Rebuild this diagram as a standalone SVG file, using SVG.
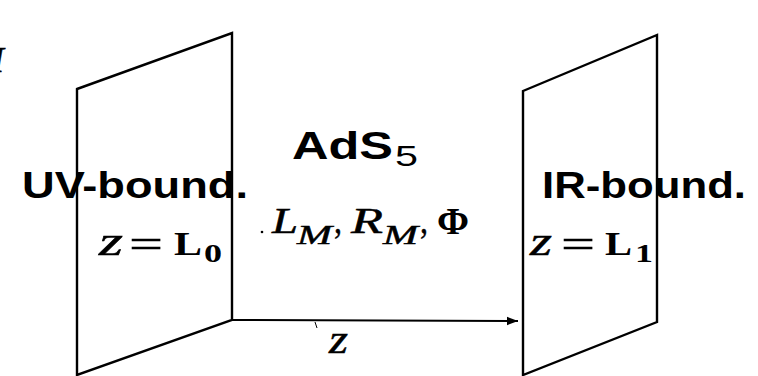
<svg xmlns="http://www.w3.org/2000/svg" width="758" height="376" viewBox="0 0 758 376">
  <style>
    .plane { fill: none; stroke: #000; stroke-width: 2.4; stroke-linejoin: miter; }
    .conn { stroke: #000; stroke-width: 2; fill: none; }
    .sansb { font-family: "Liberation Sans", Arial, sans-serif; font-weight: bold; fill: #000; }
    .sans { font-family: "Liberation Sans", Arial, sans-serif; fill: #000; }
    .mi { font-family: "Liberation Serif", "Times New Roman", serif; font-style: italic; fill: #000; stroke: #000; stroke-width: 0.5; }
    .mr { font-family: "Liberation Serif", "Times New Roman", serif; fill: #000; stroke: #000; stroke-width: 0.4; }
    .mb { font-family: "Liberation Serif", "Times New Roman", serif; font-weight: bold; fill: #000; }
  </style>
  <defs>
    <marker id="arrow" markerWidth="12" markerHeight="10" refX="11" refY="5" orient="auto" markerUnits="userSpaceOnUse">
      <path d="M0,0.8 L11,5 L0,9.2 Z" fill="#000"/>
    </marker>
  </defs>
  <rect width="758" height="376" fill="#fff"/>

  <!-- partial glyph at the left edge -->
  <text class="mi" x="-8" y="72" font-size="36">I</text>

  <g id="connectors">
    <line class="conn" x1="232" y1="320" x2="518" y2="321" marker-end="url(#arrow)"/>
    <line x1="315" y1="322" x2="317" y2="328" stroke="#000" stroke-width="1"/>
    <text class="mi" x="329" y="353" font-size="39" textLength="19" lengthAdjust="spacingAndGlyphs">z</text>
  </g>

  <g id="plane-uv">
    <polygon class="plane" points="77,89 232,33 232,320 77,375"/>
    <text class="sansb" x="22" y="198" font-size="37" textLength="226" lengthAdjust="spacingAndGlyphs">UV-bound.</text>
    <text class="mi" x="99" y="255" font-size="39" textLength="24" lengthAdjust="spacingAndGlyphs">z</text>
    <text class="mr" x="129" y="258" font-size="40" textLength="34" lengthAdjust="spacingAndGlyphs">=</text>
    <text class="mb" x="174" y="255" font-size="33" textLength="28" lengthAdjust="spacingAndGlyphs">L</text>
    <text class="mb" x="204" y="262" font-size="26" textLength="18" lengthAdjust="spacingAndGlyphs">0</text>
  </g>

  <g id="bulk">
    <text class="sansb" x="292" y="159" font-size="39" textLength="101" lengthAdjust="spacingAndGlyphs">AdS</text>
    <text class="sans" x="395" y="166" font-size="29" textLength="23" lengthAdjust="spacingAndGlyphs">5</text>
    <circle cx="262" cy="232" r="1.3" fill="#000"/>
    <text class="mi" x="272" y="233" font-size="36" textLength="26" lengthAdjust="spacingAndGlyphs">L</text>
    <text class="mi" x="297" y="244" font-size="28" textLength="35" lengthAdjust="spacingAndGlyphs">M</text>
    <text class="mr" x="334" y="233" font-size="38" textLength="8" lengthAdjust="spacingAndGlyphs">,</text>
    <text class="mi" x="351" y="233" font-size="36" textLength="32" lengthAdjust="spacingAndGlyphs">R</text>
    <text class="mi" x="383" y="244" font-size="28" textLength="35" lengthAdjust="spacingAndGlyphs">M</text>
    <text class="mr" x="420" y="233" font-size="38" textLength="8" lengthAdjust="spacingAndGlyphs">,</text>
    <text class="mb" x="437" y="234" font-size="38" textLength="32" lengthAdjust="spacingAndGlyphs">Φ</text>
  </g>

  <g id="plane-ir">
    <polygon class="plane" points="523,91 657,35 657,322 523,375"/>
    <text class="sansb" x="542" y="198" font-size="37" textLength="204" lengthAdjust="spacingAndGlyphs">IR-bound.</text>
    <text class="mi" x="530" y="255" font-size="39" textLength="22" lengthAdjust="spacingAndGlyphs">z</text>
    <text class="mr" x="561" y="258" font-size="40" textLength="34" lengthAdjust="spacingAndGlyphs">=</text>
    <text class="mb" x="605" y="255" font-size="33" textLength="27" lengthAdjust="spacingAndGlyphs">L</text>
    <text class="mb" x="635" y="262" font-size="26" textLength="18" lengthAdjust="spacingAndGlyphs">1</text>
  </g>
</svg>
